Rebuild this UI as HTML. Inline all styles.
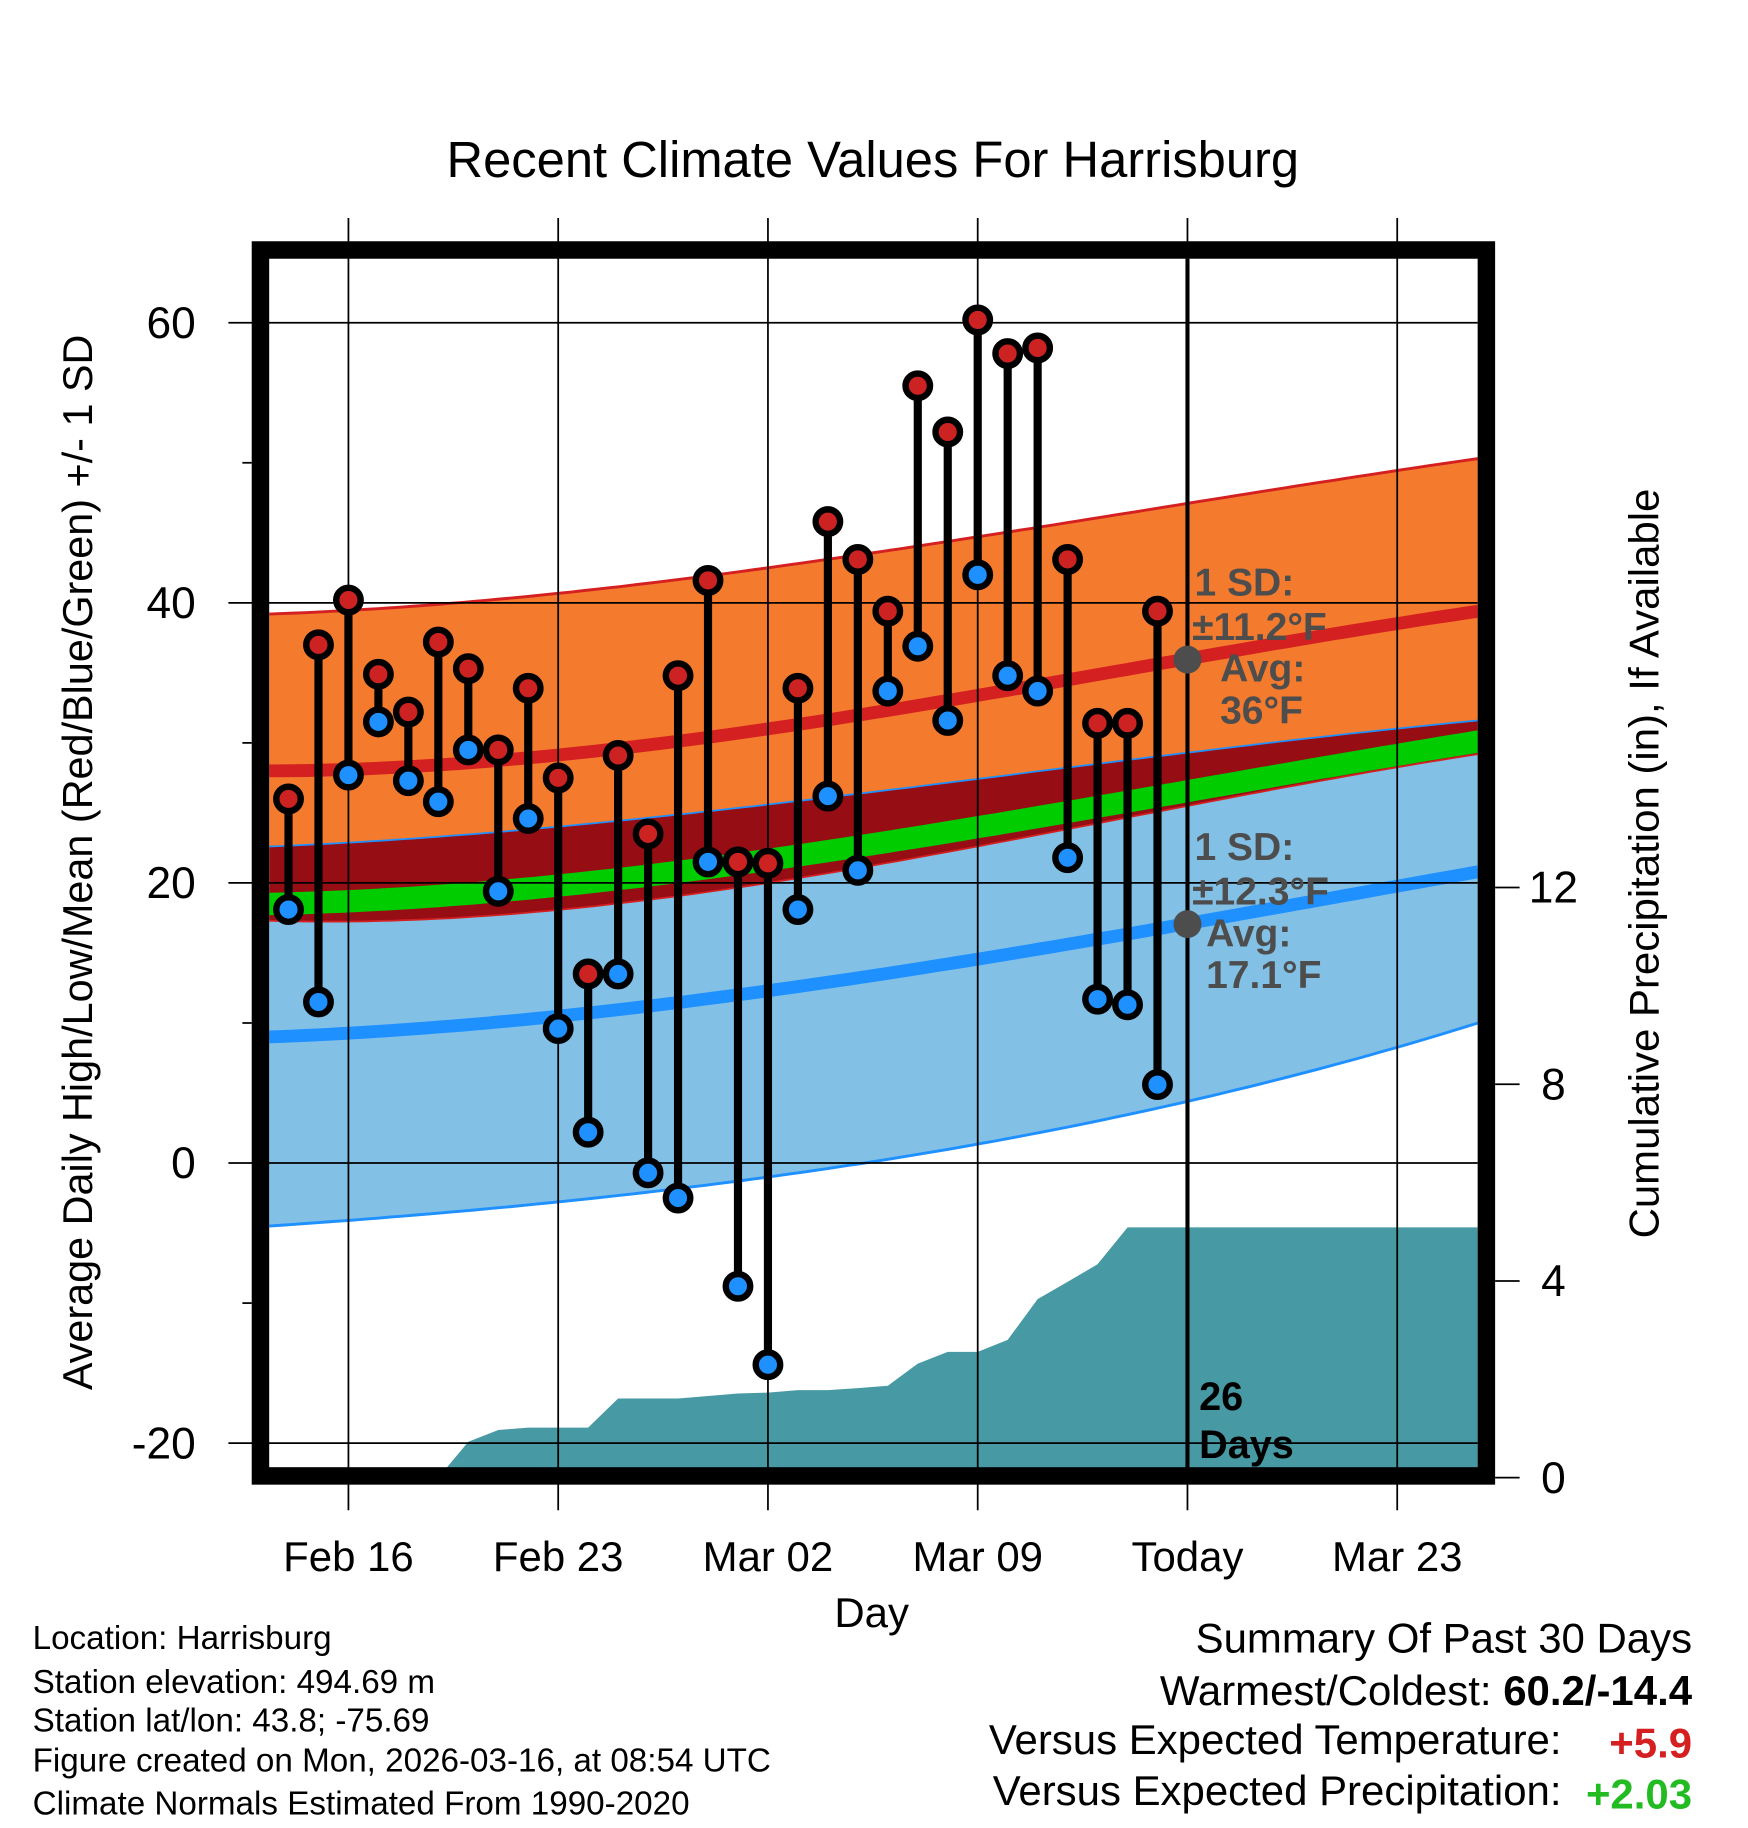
<!DOCTYPE html>
<html><head><meta charset="utf-8"><style>
html,body{margin:0;padding:0;background:#fff;}
svg{display:block;font-family:"Liberation Sans",Arial,sans-serif;}
</style></head><body>
<svg id="chart" width="1748" height="1828" viewBox="0 0 1500 1568.6" xmlns="http://www.w3.org/2000/svg">
<defs><clipPath id="plotclip"><rect x="231" y="222" width="1037" height="1038"/></clipPath></defs>
<rect x="0" y="0" width="1500" height="1568.6" fill="#fff"/>
<text x="749" y="152" font-size="43.5" text-anchor="middle">Recent Climate Values For Harrisburg</text>
<g id="bands" clip-path="url(#plotclip)"></g>
<g id="precip" clip-path="url(#plotclip)"></g>
<g id="gridover"></g>
<g id="marks"></g>
<g id="annot">
<line x1="1019" y1="222" x2="1019" y2="1260" stroke="#000" stroke-width="3.5"/>
<circle cx="1019" cy="566" r="12" fill="#4d4d4d"/>
<circle cx="1019" cy="793" r="12" fill="#4d4d4d"/>
<g font-size="33.5" font-weight="bold" fill="#4d4d4d">
<text x="1025" y="511">1 SD:</text>
<text x="1023" y="549">±11.2°F</text>
<text x="1047" y="585">Avg:</text>
<text x="1047" y="621">36°F</text>
<text x="1025" y="738">1 SD:</text>
<text x="1023" y="776">±12.3°F</text>
<text x="1035" y="812">Avg:</text>
<text x="1035" y="848">17.1°F</text>
</g>
<text x="1029" y="1210" font-size="34" font-weight="bold">26</text>
<text x="1029" y="1251" font-size="34" font-weight="bold">Days</text>
</g>
<rect x="223.5" y="214.5" width="1052" height="1052" fill="none" stroke="#000" stroke-width="15"/>
<g id="axes"></g>
<text x="748" y="1396" font-size="36" text-anchor="middle">Day</text>
<text transform="translate(79,740) rotate(-90)" font-size="35.5" text-anchor="middle">Average Daily High/Low/Mean (Red/Blue/Green) +/- 1 SD</text>
<text transform="translate(1423,741) rotate(-90)" font-size="36" text-anchor="middle">Cumulative Precipitation (in), If Available</text>
<g font-size="28.5">
<text x="28" y="1415">Location: Harrisburg</text>
<text x="28" y="1453">Station elevation: 494.69 m</text>
<text x="28" y="1486">Station lat/lon: 43.8; -75.69</text>
<text x="28" y="1520">Figure created on Mon, 2026-03-16, at 08:54 UTC</text>
<text x="28" y="1557">Climate Normals Estimated From 1990-2020</text>
</g>
<g font-size="36">
<text x="1452" y="1418" text-anchor="end">Summary Of Past 30 Days</text>
<text x="1452" y="1463" text-anchor="end">Warmest/Coldest: <tspan font-weight="bold">60.2/-14.4</tspan></text>
<text x="1340" y="1505" text-anchor="end">Versus Expected Temperature:</text>
<text x="1452" y="1508" text-anchor="end" font-weight="bold" fill="#d42020">+5.9</text>
<text x="1340" y="1549" text-anchor="end">Versus Expected Precipitation:</text>
<text x="1452" y="1552" text-anchor="end" font-weight="bold" fill="#22bb22">+2.03</text>
</g>
</svg>
<script>
// ---- data ----
const obsDays = [-2,-1,0,1,2,3,4,5,6,7,8,9,10,11,12,13,14,15,16,17,18,19,20,21,22,23,24,25,26,27];
const highs = [26.0,37.0,40.2,34.9,32.2,37.2,35.3,29.5,33.9,27.5,13.5,29.1,23.5,34.8,41.6,21.5,21.4,33.9,45.8,43.1,39.4,55.5,52.2,60.2,57.8,58.2,43.1,31.4,31.4,39.4];
const lows = [18.1,11.5,27.7,31.5,27.3,25.8,29.5,19.4,24.6,9.6,2.2,13.5,-0.7,-2.5,21.5,-8.8,-14.4,18.1,26.2,20.9,33.7,36.9,31.6,42.0,34.8,33.7,21.8,11.7,11.3,5.6];
const precipCum = [0,0,0,0,0,0,0.73,0.97,1.02,1.02,1.02,1.61,1.61,1.61,1.66,1.71,1.73,1.78,1.78,1.82,1.87,2.32,2.56,2.56,2.80,3.63,3.98,4.34,5.09,5.09];
const normDays = [-2.65,14,28,37.7];
const hiTop = [39.2,42.5,47.1,50.3];
const hiMean = [28.0,31.0,36.0,39.4];
const hiBot = [17.3,20.0,25.5,29.2];
const loTop = [22.6,25.6,29.3,31.6];
const loMean = [9.0,12.3,17.1,20.8];
const loBot = [-4.5,-1.0,4.4,10.0];
const tempTicks = [60,40,20,0,-20];
const tempMinor = [50,30,10,-10];
const precipTicks = [0,4,8,12];
const dateTickDays = [0,7,14,21,28,35];
const dateTickLabels = ['Feb 16','Feb 23','Mar 02','Mar 09','Today','Mar 23'];
// ---- scales ----
const X = d => 299 + d*25.714;
const Y = v => 998 - v*12.018;
const YP = p => 1268 - p*42.2;
const DMIN = -2.65, DMAX = 37.7;
const NS='http://www.w3.org/2000/svg';
function mk(tag, parent, attrs){const e=document.createElementNS(NS,tag);for(const k in attrs)e.setAttribute(k,attrs[k]);parent.appendChild(e);return e;}
// smooth (Lagrange) interpolation through the normal samples
function interp(arr,d){let s=0;for(let i=0;i<normDays.length;i++){let w=1;for(let j=0;j<normDays.length;j++){if(j!==i)w*=(d-normDays[j])/(normDays[i]-normDays[j]);}s+=w*arr[i];}return s;}
const samp=[];for(let i=0;i<=100;i++)samp.push(DMIN+(DMAX-DMIN)*i/100);
function linePts(f){return samp.map(d=>X(d).toFixed(1)+','+Y(f(d)).toFixed(1));}
function bandPath(fa,fb){const a=linePts(fa),b=linePts(fb).reverse();return 'M'+a.join('L')+'L'+b.join('L')+'Z';}
const bands=document.getElementById('bands');
let e;
e=mk('path',bands,{d:bandPath(d=>interp(hiTop,d),d=>interp(loTop,d)),fill:'#f47a2e'});


e=mk('path',bands,{d:bandPath(d=>interp(loTop,d),d=>interp(hiBot,d)),fill:'#960d14'});


e=mk('path',bands,{d:bandPath(d=>interp(hiBot,d),d=>interp(loBot,d)),fill:'#82c0e6'});


const meanF=d=>(interp(hiMean,d)+interp(loMean,d))/2;
e=mk('path',bands,{d:bandPath(d=>meanF(d)+0.8,d=>meanF(d)-0.8),fill:'#00cc00'});


function pl(f,col,w,name){const p=mk('polyline',bands,{points:linePts(f).join(' '),fill:'none',stroke:col,'stroke-width':w});}
pl(d=>interp(hiTop,d),'#d42020',2.5,'high-top-line');
pl(d=>interp(hiBot,d),'#d42020',1.5,'high-bottom-line');
pl(d=>interp(loTop,d),'#1e90ff',1.5,'low-top-line');
pl(d=>interp(loBot,d),'#1e90ff',2.5,'low-bottom-line');
pl(d=>interp(hiMean,d),'#d42020',11,'high-mean-line');
pl(d=>interp(loMean,d),'#1e90ff',11,'low-mean-line');
// precip
const pr=document.getElementById('precip');
let pts=[X(obsDays[0])+','+YP(0)];
obsDays.forEach((d,i)=>pts.push(X(d).toFixed(1)+','+YP(precipCum[i]).toFixed(1)));
pts.push(X(DMAX+1)+','+YP(precipCum[precipCum.length-1]));
pts.push(X(DMAX+1)+','+YP(0));
e=mk('polygon',pr,{points:pts.join(' '),fill:'#4799a4'});


// grid
const g=document.getElementById('gridover');
tempTicks.forEach(v=>{const l=mk('line',g,{x1:196,x2:1268,y1:Y(v),y2:Y(v),stroke:'#000','stroke-width':1.5});});
dateTickDays.forEach((d,i)=>{const l=mk('line',g,{x1:X(d),x2:X(d),y1:187,y2:1296,stroke:'#000','stroke-width':1.5});});
// marks
const m=document.getElementById('marks');
obsDays.forEach((d,i)=>{
 const s=mk('line',m,{x1:X(d),x2:X(d),y1:Y(highs[i]),y2:Y(lows[i]),stroke:'#000','stroke-width':7});
 
 
 const h=mk('circle',m,{cx:X(d),cy:Y(highs[i]),r:10.5,fill:'#cc2222',stroke:'#000','stroke-width':5.5});
 
 
 const lo=mk('circle',m,{cx:X(d),cy:Y(lows[i]),r:10.5,fill:'#1e90ff',stroke:'#000','stroke-width':5.5});
 
 
});
// axes
const a=document.getElementById('axes');
tempTicks.forEach(v=>{const t=mk('text',a,{x:168,y:Y(v)+13,'font-size':38,'text-anchor':'end'});t.textContent=v;});
tempMinor.forEach(v=>{const l=mk('line',a,{x1:208,x2:216,y1:Y(v),y2:Y(v),stroke:'#000','stroke-width':1.5});});
precipTicks.forEach(p=>{const l=mk('line',a,{x1:1283,x2:1304,y1:YP(p),y2:YP(p),stroke:'#000','stroke-width':1.5});
 const t=mk('text',a,{x:1333,y:YP(p)+13,'font-size':38,'text-anchor':'middle'});t.textContent=p;});
dateTickDays.forEach((d,i)=>{const t=mk('text',a,{x:X(d),y:1348,'font-size':36,'text-anchor':'middle'});t.textContent=dateTickLabels[i];});
</script>
</body></html>
